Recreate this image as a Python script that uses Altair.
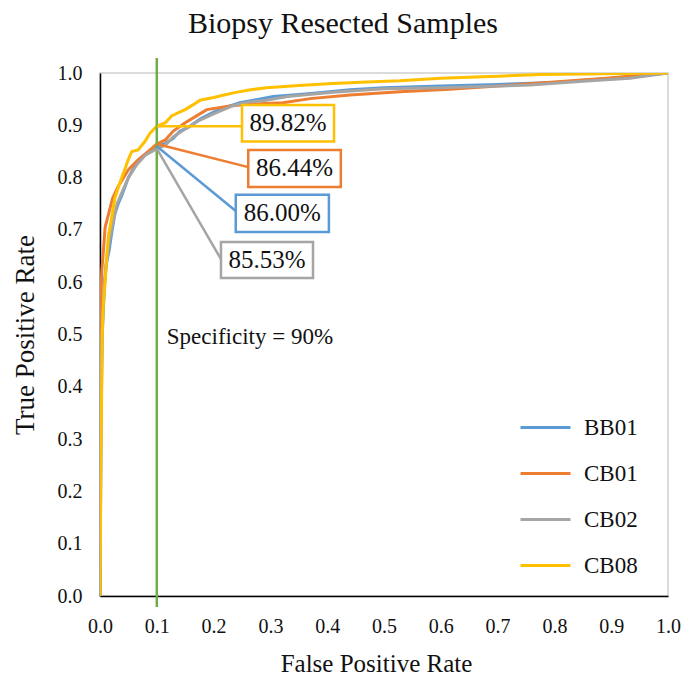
import altair as alt
import pandas as pd

# ---------------- data ----------------
series = ["BB01", "CB01", "CB02", "CB08"]
colors = ["#5B9BD5", "#ED7D31", "#A5A5A5", "#FFC000"]

bb01_fpr = [0, 0.002, 0.004, 0.006, 0.008, 0.012, 0.016, 0.02, 0.026, 0.032, 0.038, 0.05, 0.06, 0.07, 0.085,
            0.1, 0.115, 0.129, 0.14, 0.158, 0.176, 0.2, 0.217, 0.246, 0.28, 0.305, 0.35, 0.381, 0.44, 0.5,
            0.6, 0.7, 0.8, 0.9, 1.0]
bb01_tpr = [0, 0.35, 0.5, 0.55, 0.6, 0.64, 0.66, 0.69, 0.73, 0.75, 0.765, 0.8, 0.82, 0.835, 0.848,
            0.86, 0.865, 0.875, 0.888, 0.898, 0.912, 0.925, 0.933, 0.943, 0.95, 0.955, 0.959, 0.962, 0.968, 0.972,
            0.975, 0.978, 0.982, 0.99, 1.0]

cb01_fpr = [0, 0.001, 0.002, 0.003, 0.006, 0.009, 0.015, 0.022, 0.032, 0.05, 0.067, 0.085, 0.1, 0.115, 0.129,
            0.15, 0.17, 0.188, 0.229, 0.26, 0.322, 0.37, 0.44, 0.528, 0.616, 0.7, 0.775, 0.892, 1.0]
cb01_tpr = [0, 0.45, 0.58, 0.62, 0.66, 0.705, 0.73, 0.76, 0.783, 0.815, 0.834, 0.85, 0.8644, 0.872, 0.889,
            0.905, 0.918, 0.93, 0.937, 0.94, 0.943, 0.951, 0.958, 0.964, 0.969, 0.975, 0.981, 0.99, 1.0]

cb02_fpr = [0, 0.002, 0.004, 0.007, 0.01, 0.015, 0.02, 0.03, 0.04, 0.05, 0.065, 0.08, 0.1, 0.115, 0.129,
            0.15, 0.176, 0.2, 0.235, 0.26, 0.293, 0.33, 0.41, 0.5, 0.6, 0.7, 0.757, 0.85, 0.933, 1.0]
cb02_tpr = [0, 0.4, 0.52, 0.58, 0.63, 0.67, 0.7, 0.75, 0.775, 0.8, 0.825, 0.843, 0.8553, 0.862, 0.878,
            0.893, 0.91, 0.922, 0.938, 0.944, 0.948, 0.955, 0.963, 0.97, 0.972, 0.975, 0.977, 0.984, 0.99, 1.0]

cb08_fpr = [0, 0.002, 0.004, 0.006, 0.009, 0.012, 0.015, 0.02, 0.026, 0.035, 0.045, 0.05, 0.056, 0.067, 0.079,
            0.088, 0.1, 0.115, 0.126, 0.14, 0.15, 0.165, 0.176, 0.2, 0.215, 0.235, 0.26, 0.293, 0.35, 0.41,
            0.47, 0.528, 0.6, 0.7, 0.775, 0.85, 1.0]
cb08_tpr = [0, 0.3, 0.5, 0.56, 0.6, 0.65, 0.69, 0.72, 0.76, 0.79, 0.82, 0.835, 0.85, 0.853, 0.869,
            0.885, 0.8982, 0.905, 0.918, 0.925, 0.93, 0.94, 0.948, 0.953, 0.957, 0.962, 0.967, 0.972, 0.976, 0.98,
            0.983, 0.985, 0.99, 0.994, 0.997, 0.998, 1.0]

# operating points at specificity 90 % (FPR = 0.1)
spec_fpr = [0.1]
spec_label = ["Specificity = 90%"]
callout_series = ["CB08", "CB01", "BB01", "CB02"]
callout_text = ["89.82%", "86.44%", "86.00%", "85.53%"]
callout_tpr = [0.8982, 0.8644, 0.8600, 0.8553]

# callout box placement (annotation layout, in data units)
box_x0 = [0.250, 0.261, 0.239, 0.213]
box_x1 = [0.412, 0.424, 0.403, 0.375]
box_y0 = [0.869, 0.782, 0.696, 0.608]
box_y1 = [0.939, 0.853, 0.767, 0.677]
lead_y = [0.8982, 0.820, 0.736, 0.644]

# ---------------- tables ----------------
rows = []
for name, fx, ty in zip(series, [bb01_fpr, cb01_fpr, cb02_fpr, cb08_fpr],
                        [bb01_tpr, cb01_tpr, cb02_tpr, cb08_tpr]):
    for i, (f, t) in enumerate(zip(fx, ty)):
        rows.append({"series": name, "fpr": f, "tpr": t, "order": i})
df = pd.DataFrame(rows)

call = pd.DataFrame({
    "series": callout_series, "text": callout_text, "px": spec_fpr * 4, "py": callout_tpr,
    "x0": box_x0, "x1": box_x1, "y0": box_y0, "y1": box_y1, "ly": lead_y,
})
call["tx"] = (call["x0"] + call["x1"]) / 2
call["ty"] = (call["y0"] + call["y1"]) / 2

spec_df = pd.DataFrame({"fpr": spec_fpr, "label": spec_label})

FONT = "Liberation Serif"
xs = alt.Scale(domain=[0, 1], nice=False, zero=False)
ys = alt.Scale(domain=[0, 1], nice=False, zero=False)
color_scale = alt.Scale(domain=series, range=colors)
ticks = [i / 10 for i in range(11)]

base = alt.Chart(df)

lines = base.mark_line(strokeWidth=3, clip=True).encode(
    x=alt.X("fpr:Q", scale=xs,
            axis=alt.Axis(title="False Positive Rate", values=ticks, format=".1f", labelFlush=False,
                          titleX=276)),
    y=alt.Y("tpr:Q", scale=ys,
            axis=alt.Axis(title="True Positive Rate", values=ticks, format=".1f", labelFlush=False)),
    color=alt.Color("series:N", scale=color_scale, sort=series,
                    legend=alt.Legend(orient="none", legendX=419, legendY=328, title=None,
                                      symbolType="stroke", symbolSize=2500, symbolStrokeWidth=3,
                                      labelFontSize=23, labelFont=FONT, labelColor="#111111",
                                      labelOffset=12, rowPadding=7, padding=0)),
    order="order:Q",
)

spec_rule = alt.Chart(spec_df).mark_rule(color="#70AD47", strokeWidth=2.5).encode(
    x=alt.X("fpr:Q", scale=xs), y=alt.value(-15), y2=alt.value(534))

spec_text = alt.Chart(spec_df).mark_text(font=FONT, fontSize=23, align="left", baseline="middle",
                                         color="#111111", dx=10).encode(
    x=alt.X("fpr:Q", scale=xs), y=alt.value(264), text="label:N")

leaders = alt.Chart(call).mark_rule(strokeWidth=2.5).encode(
    x=alt.X("px:Q", scale=xs), y=alt.Y("py:Q", scale=ys),
    x2="x0:Q", y2="ly:Q",
    color=alt.Color("series:N", scale=color_scale, legend=None))

boxes = alt.Chart(call).mark_rect(fill="white", strokeWidth=2.5).encode(
    x=alt.X("x0:Q", scale=xs), x2="x1:Q", y=alt.Y("y0:Q", scale=ys), y2="y1:Q",
    stroke=alt.Stroke("series:N", scale=color_scale, legend=None))

texts = alt.Chart(call).mark_text(font=FONT, fontSize=25, color="#111111", baseline="middle").encode(
    x=alt.X("tx:Q", scale=xs), y=alt.Y("ty:Q", scale=ys), text="text:N")

chart = alt.layer(lines, spec_rule, spec_text, leaders, boxes, texts).properties(
    width=568, height=523,
    autosize=alt.AutoSizeParams(type="none"),
    padding={"left": 100, "top": 73, "right": 16, "bottom": 86},
    title=alt.TitleParams("Biopsy Resected Samples", font=FONT, fontSize=30, fontWeight="normal",
                          color="#111111", anchor="middle", dx=-41, dy=36, offset=30,
                          baseline="alphabetic"),
).configure_view(stroke="#D0D0D0", strokeWidth=1.5).configure_axis(
    grid=False, ticks=False, tickSize=0, domainColor="#000000", domainWidth=1.5,
    labelFont=FONT, labelFontSize=20, labelColor="#111111", labelPadding=20,
    titleFont=FONT, titleFontWeight="normal", titleColor="#111111",
).configure_axisX(titlePadding=15, titleFontSize=25).configure_axisY(
    titlePadding=18, labelPadding=18, titleFontSize=27)

chart.save("out.html", embed_options={"renderer": "svg", "actions": False})
